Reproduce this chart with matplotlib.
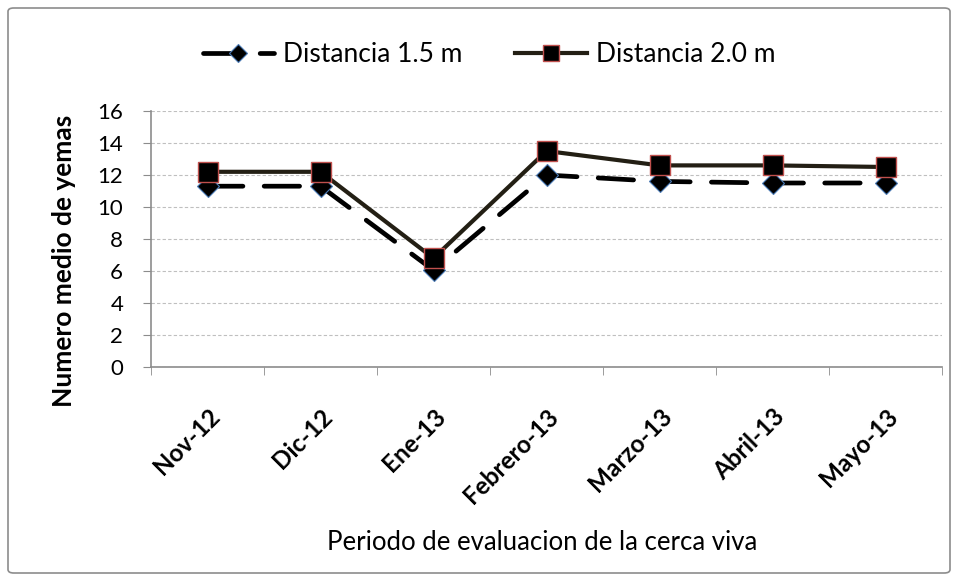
import numpy as np
import matplotlib.pyplot as plt
from matplotlib.patches import FancyBboxPatch

periodos = ["Nov-12", "Dic-12", "Ene-13", "Febrero-13", "Marzo-13", "Abril-13", "Mayo-13"]
dist_15 = [11.3, 11.3, 6.05, 12.0, 11.6, 11.5, 11.5]
dist_20 = [12.2, 12.2, 6.8, 13.5, 12.6, 12.6, 12.5]

plt.rcParams["font.family"] = ["Lato", "DejaVu Sans"]

fig = plt.figure(figsize=(9.59, 5.81), dpi=100)
W, H = 959, 581
ax = fig.add_axes([151 / W, 1 - 367 / H, (942 - 151) / W, (367 - 111) / H])

# outer chart border
fig.patches.append(FancyBboxPatch((8 / W, 8 / H), (950 - 8) / W, (573 - 8) / H,
                                  boxstyle="round,pad=0,rounding_size=0.006",
                                  transform=fig.transFigure, fill=False,
                                  edgecolor="#8c8c8c", linewidth=1.2))

x = np.arange(len(periodos))
ax.plot(x, dist_15, color="black", linewidth=3.4, linestyle=(0, (7.5, 4.5)),
        dash_capstyle="round",
        marker="D", markersize=11, markerfacecolor="black", markeredgecolor="#4a7ab5",
        markeredgewidth=0.8, label="Distancia 1.5 m", zorder=3)
ax.plot(x, dist_20, color="#231f14", linewidth=3,
        marker="s", markersize=14.5, markerfacecolor="black", markeredgecolor="#c0504d",
        markeredgewidth=1.0, label="Distancia 2.0 m", zorder=4)

ax.set_xlim(-0.5, len(periodos) - 0.5)
ax.set_ylim(0, 16)
ax.set_yticks(range(0, 17, 2))
ax.set_xticks(x)
ax.set_xticklabels(periodos, rotation=45, ha="right", rotation_mode="anchor",
                   fontsize=17.5, fontweight="bold")
ax.set_xticks(np.arange(-0.5, len(periodos), 1), minor=True)
ax.tick_params(axis="x", which="major", length=0, pad=27)
ax.tick_params(axis="x", which="minor", length=6, color="#8c8c8c", direction="out")
ax.tick_params(axis="y", length=6, color="#8c8c8c", labelsize=16, pad=14)

ax.grid(axis="y", linestyle=(0, (3, 2)), color="#bfbfbf", linewidth=0.8)
ax.set_axisbelow(True)
for s in ["top", "right"]:
    ax.spines[s].set_visible(False)
for s in ["left", "bottom"]:
    ax.spines[s].set_color("#8c8c8c")
    ax.spines[s].set_linewidth(1.2)

ax.set_ylabel("Numero medio de yemas", fontsize=19, fontweight="bold", va="center")
ax.yaxis.set_label_coords((64 - 151) / (942 - 151), (367 - 261) / (367 - 111))
fig.text(542 / W, 1 - 542 / H, "Periodo de evaluacion de la cerca viva",
         ha="center", va="center", fontsize=18.5)

fig.legend(loc="center", bbox_to_anchor=(489 / W, 1 - 55 / H), ncol=2, frameon=False,
           fontsize=19, handlelength=2.7, columnspacing=2.0, handletextpad=0.35,
           markerscale=0.8)

fig.savefig("out.png", dpi=100)
